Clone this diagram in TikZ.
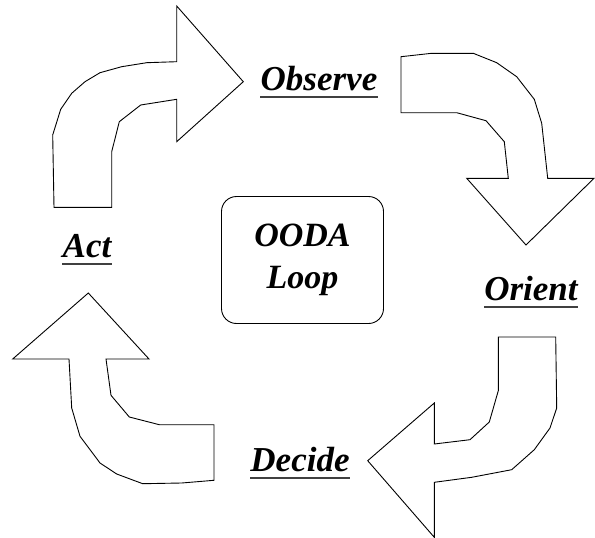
\documentclass[tikz,border=0pt]{standalone}
\usepackage{fontspec}
\setmainfont{Liberation Serif}
\newfontfamily\lserif{Liberation Serif}[BoldItalicFont={Liberation Serif Bold Italic}]
\begin{document}
\begin{tikzpicture}[x=1pt,y=-1pt,
  bigarrow/.style={draw=black,line width=0.9pt,line join=miter,fill=white},
  lbl/.style={font=\lserif\fontsize{35}{38}\selectfont\bfseries\itshape,inner sep=0pt,anchor=base},
  uline/.style={line width=1.6pt,draw=black!75},
  centerbox/.style={draw=black,line width=0.9pt,rounded corners=15pt,minimum width=162pt,minimum height=127pt,
    font=\lserif\fontsize{34}{42}\selectfont\bfseries\itshape,align=center,inner sep=0pt}]
\useasboundingbox (0,0) rectangle (595,538);
% Act -> Observe
\draw[bigarrow] (176.7,6) -- (243.3,81.7) -- (176.7,141.7) -- (176.7,99.3) -- (140.7,105) -- (119.3,121.7)
  -- (111.7,151.7) -- (111.7,207.3) -- (54,207.3) -- (52.7,135) -- (60.7,109.3) -- (71.7,93.3) -- (85,81.7)
  -- (100,72.7) -- (121.7,66.7) -- (146.7,62.7) -- (176.7,61.7) -- cycle;
% Observe -> Orient
\draw[bigarrow] (401,56.7) -- (431.7,53.3) -- (473.3,53.3) -- (496.7,62.7) -- (516.7,76.7) -- (534.3,99.3)
  -- (541.7,123.3) -- (547.7,178.3) -- (594,178.3) -- (526,245) -- (466.7,178.3) -- (508.3,178.3)
  -- (504.3,141.7) -- (486,120.7) -- (456.7,112.7) -- (401,112.7) -- cycle;
% Orient -> Decide
\draw[bigarrow] (498.3,337) -- (555.7,337) -- (556.7,408) -- (550,428) -- (534.3,449.7) -- (511.7,469.7)
  -- (471.7,477.3) -- (434.3,482.3) -- (434.3,537.3) -- (367.7,460.7) -- (434.3,403) -- (434.3,444)
  -- (470,439.7) -- (489.3,422) -- (498.3,390.7) -- cycle;
% Decide -> Act
\draw[bigarrow] (214,424.7) -- (214,480.3) -- (181.7,483) -- (142.7,483.7) -- (116.7,474) -- (100,463)
  -- (80,436.3) -- (71.7,408) -- (69,359) -- (12.7,359) -- (88.3,293) -- (149,359) -- (106,359)
  -- (111,395.3) -- (129.3,417) -- (159.3,424.7) -- cycle;
% labels
\node[lbl] (obs) at (319,90) {Observe};
\node[lbl] (ori) at (531,300) {Orient};
\node[lbl] (dec) at (300,471) {Decide};
\node[lbl] (act) at (87,257) {Act};
\foreach \n in {obs,ori,dec,act}
  \draw[uline] ([yshift=-7pt]\n.base west) -- ([yshift=-7pt]\n.base east);
\node[centerbox] (ooda) at (302.5,260) {OODA\\Loop};
\end{tikzpicture}
\end{document}
